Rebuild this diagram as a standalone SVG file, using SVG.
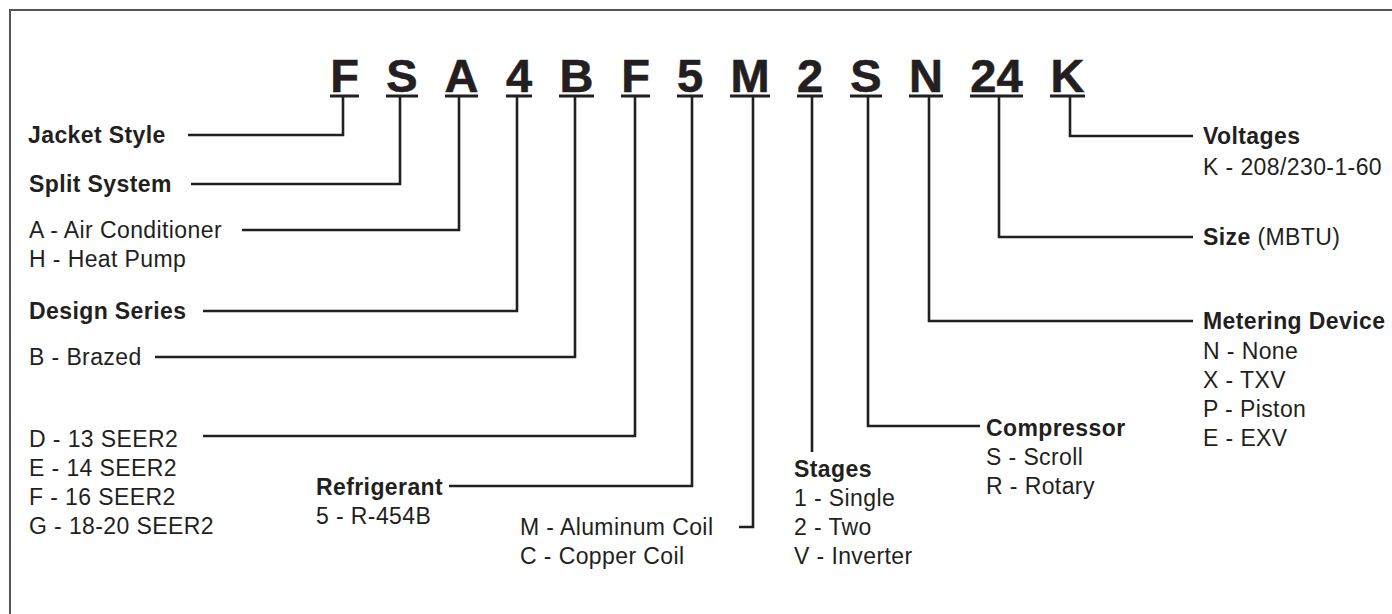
<svg xmlns="http://www.w3.org/2000/svg" width="1392" height="614" viewBox="0 0 1392 614">
<style>
  text { font-family: "Liberation Sans", Arial, Helvetica, sans-serif; fill: #231f20; }
  .code { font-size: 47px; font-weight: bold; text-anchor: middle; stroke: #231f20; stroke-width: 0.6; }
  .b { font-size: 23px; font-weight: bold; letter-spacing: 0.4px; }
  .r { font-size: 23px; letter-spacing: 0.4px; }
  .rn { font-weight: normal; }
  .ul { stroke: #231f20; stroke-width: 3; }
  .con { fill: none; stroke: #231f20; stroke-width: 2.6; }
  .frame { fill: none; stroke: #555555; stroke-width: 2; }
</style>
<rect width="1392" height="614" fill="#ffffff"/>
<path class="frame" d="M10,614 V10 H1392"/>

<g id="code">
  <g id="c-F1"><text class="code" x="344.5" y="92">F</text><line class="ul" x1="330" y1="96" x2="359" y2="96"/></g>
  <g id="c-S1"><text class="code" x="402" y="92">S</text><line class="ul" x1="386" y1="96" x2="418" y2="96"/></g>
  <g id="c-A"><text class="code" x="461.5" y="92">A</text><line class="ul" x1="445" y1="96" x2="478" y2="96"/></g>
  <g id="c-4"><text class="code" x="519" y="92">4</text><line class="ul" x1="506" y1="96" x2="532" y2="96"/></g>
  <g id="c-B"><text class="code" x="576.5" y="92">B</text><line class="ul" x1="559" y1="96" x2="594" y2="96"/></g>
  <g id="c-F2"><text class="code" x="635.5" y="92">F</text><line class="ul" x1="621" y1="96" x2="650" y2="96"/></g>
  <g id="c-5"><text class="code" x="690" y="92">5</text><line class="ul" x1="677" y1="96" x2="703" y2="96"/></g>
  <g id="c-M"><text class="code" x="750" y="92">M</text><line class="ul" x1="730" y1="96" x2="770" y2="96"/></g>
  <g id="c-2"><text class="code" x="810" y="92">2</text><line class="ul" x1="797" y1="96" x2="823" y2="96"/></g>
  <g id="c-S2"><text class="code" x="866" y="92">S</text><line class="ul" x1="850" y1="96" x2="882" y2="96"/></g>
  <g id="c-N"><text class="code" x="926" y="92">N</text><line class="ul" x1="909" y1="96" x2="943" y2="96"/></g>
  <g id="c-24"><text class="code" x="996.5" y="92">24</text><line class="ul" x1="970" y1="96" x2="1023" y2="96"/></g>
  <g id="c-K"><text class="code" x="1067.5" y="92">K</text><line class="ul" x1="1050" y1="96" x2="1085" y2="96"/></g>
</g>

<g id="connectors">
  <path class="con" d="M343,97 V135 H188"/>
  <path class="con" d="M400,97 V184 H191"/>
  <path class="con" d="M459,97 V230 H242"/>
  <path class="con" d="M517,97 V311 H203"/>
  <path class="con" d="M575,97 V357 H155"/>
  <path class="con" d="M635,97 V436 H203"/>
  <path class="con" d="M692,97 V486 H449"/>
  <path class="con" d="M753,97 V527 H739"/>
  <path class="con" d="M812,97 V452"/>
  <path class="con" d="M868,97 V426 H980"/>
  <path class="con" d="M929,97 V321 H1193"/>
  <path class="con" d="M999,97 V237 H1193"/>
  <path class="con" d="M1070,97 V136 H1193"/>
</g>

<g id="jacket-style"><text class="b" x="28" y="143">Jacket Style</text></g>
<g id="split-system"><text class="b" x="29" y="192">Split System</text></g>
<g id="type">
  <text class="r" x="29" y="238">A - Air Conditioner</text>
  <text class="r" x="29" y="267">H - Heat Pump</text>
</g>
<g id="design-series"><text class="b" x="29" y="319">Design Series</text></g>
<g id="brazed"><text class="r" x="29" y="365">B - Brazed</text></g>
<g id="seer">
  <text class="r" x="29" y="447">D - 13 SEER2</text>
  <text class="r" x="29" y="476">E - 14 SEER2</text>
  <text class="r" x="29" y="505">F - 16 SEER2</text>
  <text class="r" x="29" y="534">G - 18-20 SEER2</text>
</g>
<g id="refrigerant">
  <text class="b" x="316" y="495">Refrigerant</text>
  <text class="r" x="316" y="524">5 - R-454B</text>
</g>
<g id="coil">
  <text class="r" x="520" y="535">M - Aluminum Coil</text>
  <text class="r" x="520" y="564">C - Copper Coil</text>
</g>
<g id="stages">
  <text class="b" x="794" y="477">Stages</text>
  <text class="r" x="794" y="506">1 - Single</text>
  <text class="r" x="794" y="535">2 - Two</text>
  <text class="r" x="794" y="564">V - Inverter</text>
</g>
<g id="compressor">
  <text class="b" x="986" y="436">Compressor</text>
  <text class="r" x="986" y="465">S - Scroll</text>
  <text class="r" x="986" y="494">R - Rotary</text>
</g>
<g id="metering-device">
  <text class="b" x="1203" y="329">Metering Device</text>
  <text class="r" x="1203" y="359">N - None</text>
  <text class="r" x="1203" y="388">X - TXV</text>
  <text class="r" x="1203" y="417">P - Piston</text>
  <text class="r" x="1203" y="446">E - EXV</text>
</g>
<g id="size"><text class="b" x="1203" y="245">Size <tspan class="rn">(MBTU)</tspan></text></g>
<g id="voltages">
  <text class="b" x="1203" y="144">Voltages</text>
  <text class="r" x="1203" y="175">K - 208/230-1-60</text>
</g>
</svg>
